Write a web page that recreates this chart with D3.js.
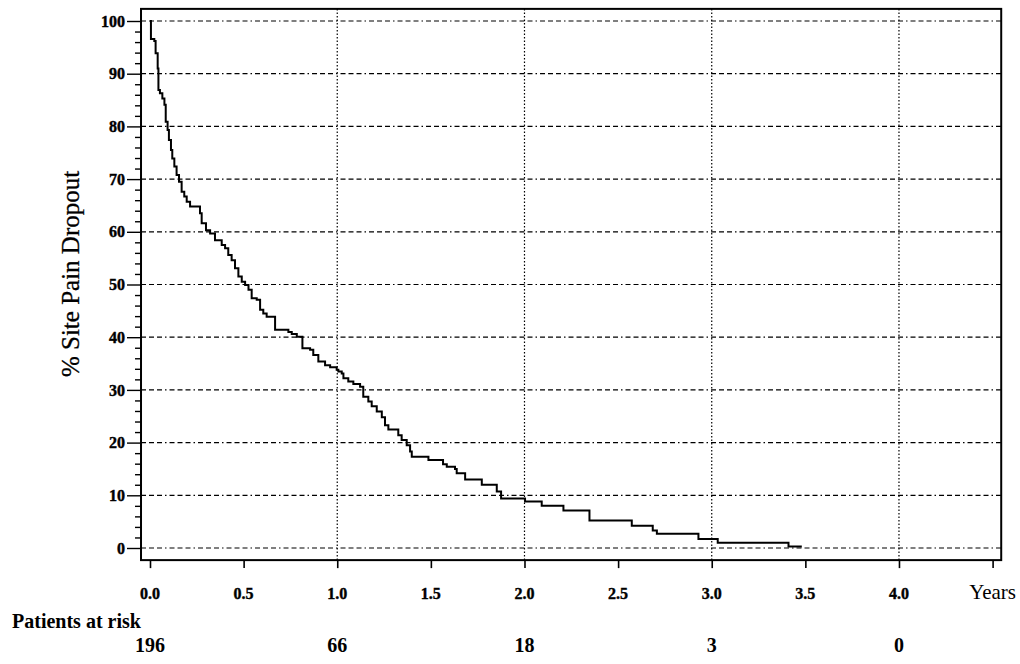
<!DOCTYPE html>
<html><head><meta charset="utf-8">
<script src="https://cdn.jsdelivr.net/npm/d3@7"></script>
<style>body{margin:0;background:#fff} svg{display:block}</style>
</head><body><svg id="c" width="1020" height="664"></svg>
<script>
// ---- data ----
const times = [0, 0.005, 0.023, 0.030, 0.041, 0.045, 0.053, 0.066, 0.077, 0.084, 0.094, 0.101, 0.112, 0.119, 0.130, 0.142, 0.155, 0.169, 0.183, 0.196, 0.214, 0.267, 0.276, 0.299, 0.321, 0.347, 0.383, 0.401, 0.418, 0.436, 0.454, 0.472, 0.490, 0.508, 0.526, 0.543, 0.570, 0.588, 0.605, 0.623, 0.668, 0.739, 0.757, 0.784, 0.814, 0.855, 0.872, 0.899, 0.935, 0.962, 0.997, 1.006, 1.024, 1.033, 1.059, 1.086, 1.122, 1.139, 1.166, 1.184, 1.211, 1.238, 1.255, 1.273, 1.326, 1.344, 1.371, 1.389, 1.398, 1.487, 1.565, 1.585, 1.629, 1.638, 1.683, 1.772, 1.852, 1.875, 2.003, 2.092, 2.208, 2.347, 2.573, 2.685, 2.707, 2.929, 3.032, 3.410, 3.481];
const values = [100, 96.6, 96.2, 93.9, 91.0, 86.9, 86.3, 85.3, 84.1, 80.9, 79.3, 77.4, 75.5, 73.9, 72.4, 70.8, 69.5, 67.6, 66.7, 65.7, 64.8, 63.5, 61.6, 60.3, 59.7, 58.4, 57.5, 56.9, 55.6, 54.6, 53.1, 51.5, 50.5, 49.9, 49.0, 47.4, 47.1, 45.2, 44.5, 43.9, 41.4, 41.0, 40.6, 40.1, 37.9, 37.6, 36.6, 35.4, 34.7, 34.3, 33.8, 33.5, 33.1, 32.2, 31.6, 31.1, 30.6, 28.7, 27.8, 26.9, 25.9, 24.8, 23.3, 22.5, 21.4, 20.5, 19.5, 18.3, 17.3, 16.7, 15.9, 15.4, 15.0, 14.2, 13.0, 12.0, 10.7, 9.4, 8.8, 8.0, 7.1, 5.2, 4.2, 3.3, 2.7, 1.7, 1.0, 0.3, 0.3];
const xTicks = [0, 0.5, 1, 1.5, 2, 2.5, 3, 3.5, 4, 4.5];
const xTickLabels = ["0.0", "0.5", "1.0", "1.5", "2.0", "2.5", "3.0", "3.5", "4.0", "Years"];
const yTicks = [0, 10, 20, 30, 40, 50, 60, 70, 80, 90, 100];
const yMinorTicks = [2,4,6,8,12,14,16,18,22,24,26,28,32,34,36,38,42,44,46,48,52,54,56,58,62,64,66,68,72,74,76,78,82,84,86,88,92,94,96,98];
const vGrid = [1, 2, 3, 4];
const riskYears = [0, 1, 2, 3, 4];
const riskCounts = ["196", "66", "18", "3", "0"];
const yTitle = "% Site Pain Dropout";
const riskTitle = "Patients at risk";

// ---- drawing ----
const svg = d3.select("#c");
const FONT = "'Liberation Serif','Times New Roman',serif";
const x = d3.scaleLinear().domain([0, 4.5]).range([150, 992.6]);
const y = d3.scaleLinear().domain([0, 100]).range([548, 21]);
const fx0 = x(-0.048), fx1 = x(4.546), fy0 = y(102.3), fy1 = y(-2.3);

// horizontal dash-dot grid
svg.append("g").selectAll("line").data(yTicks).join("line")
  .attr("x1", fx0).attr("x2", fx1)
  .attr("y1", d => y(d)).attr("y2", d => y(d))
  .attr("stroke", "#000").attr("stroke-width", 1.2)
  .attr("stroke-dasharray", "5,3,5,3,5,3,1.5,3");

// vertical dotted grid
svg.append("g").selectAll("line").data(vGrid).join("line")
  .attr("x1", d => x(d)).attr("x2", d => x(d))
  .attr("y1", fy0).attr("y2", fy1)
  .attr("stroke", "#000").attr("stroke-width", 1.2)
  .attr("stroke-dasharray", "1.5,2");

// curve
const pts = times.map((t, i) => [t, values[i]]);
svg.append("path").datum(pts)
  .attr("fill", "none").attr("stroke", "#000").attr("stroke-width", 2)
  .attr("d", d3.line().x(d => x(d[0])).y(d => y(d[1])).curve(d3.curveStepAfter));

// y axis major
const yAx = svg.append("g").attr("transform", `translate(${fx0},0)`)
  .call(d3.axisLeft(y).tickValues(yTicks).tickSize(14).tickPadding(2).tickFormat(d3.format("d")));
yAx.select(".domain").remove();
yAx.selectAll("line").attr("stroke", "#000").attr("stroke-width", 1.4);
yAx.selectAll("text").attr("font-family", FONT).attr("font-weight", "bold").attr("font-size", 16)
  .attr("fill", "#000").attr("stroke", "#000").attr("stroke-width", 0.4);
// y minor
const yMin = svg.append("g").attr("transform", `translate(${fx0},0)`)
  .call(d3.axisLeft(y).tickValues(yMinorTicks).tickSize(6).tickFormat(""));
yMin.select(".domain").remove();
yMin.selectAll("line").attr("stroke", "#000").attr("stroke-width", 1.4);

// x axis
const xAx = svg.append("g").attr("transform", `translate(0,${fy1})`)
  .call(d3.axisBottom(x).tickValues(xTicks).tickSize(8).tickFormat(""));
xAx.select(".domain").remove();
xAx.selectAll("line").attr("stroke", "#000").attr("stroke-width", 1.6);
svg.append("g").selectAll("text").data(xTicks).join("text")
  .attr("x", d => x(d)).attr("y", 599)
  .attr("text-anchor", "middle")
  .attr("font-family", FONT)
  .attr("font-weight", (d, i) => i === xTicks.length - 1 ? "normal" : "bold")
  .attr("font-size", (d, i) => i === xTicks.length - 1 ? 21 : 16)
  .attr("stroke", (d, i) => i === xTicks.length - 1 ? "none" : "#000")
  .attr("stroke-width", 0.4)
  .text((d, i) => xTickLabels[i]);

// frame
svg.append("rect").attr("x", fx0).attr("y", fy0)
  .attr("width", fx1 - fx0).attr("height", fy1 - fy0)
  .attr("fill", "none").attr("stroke", "#000").attr("stroke-width", 2);

// y title
svg.append("text").attr("transform", `translate(79,${y(52)}) rotate(-90)`)
  .attr("text-anchor", "middle").attr("font-family", FONT).attr("font-size", 25)
  .attr("stroke", "#000").attr("stroke-width", 0.3)
  .text(yTitle);

// patients at risk
svg.append("text").attr("x", 12).attr("y", 628)
  .attr("font-family", FONT).attr("font-weight", "bold").attr("font-size", 20)
  .text(riskTitle);
svg.append("g").selectAll("text").data(riskYears).join("text")
  .attr("x", d => x(d)).attr("y", 652).attr("text-anchor", "middle")
  .attr("font-family", FONT).attr("font-weight", "bold").attr("font-size", 20)
  .text((d, i) => riskCounts[i]);
</script></body></html>
